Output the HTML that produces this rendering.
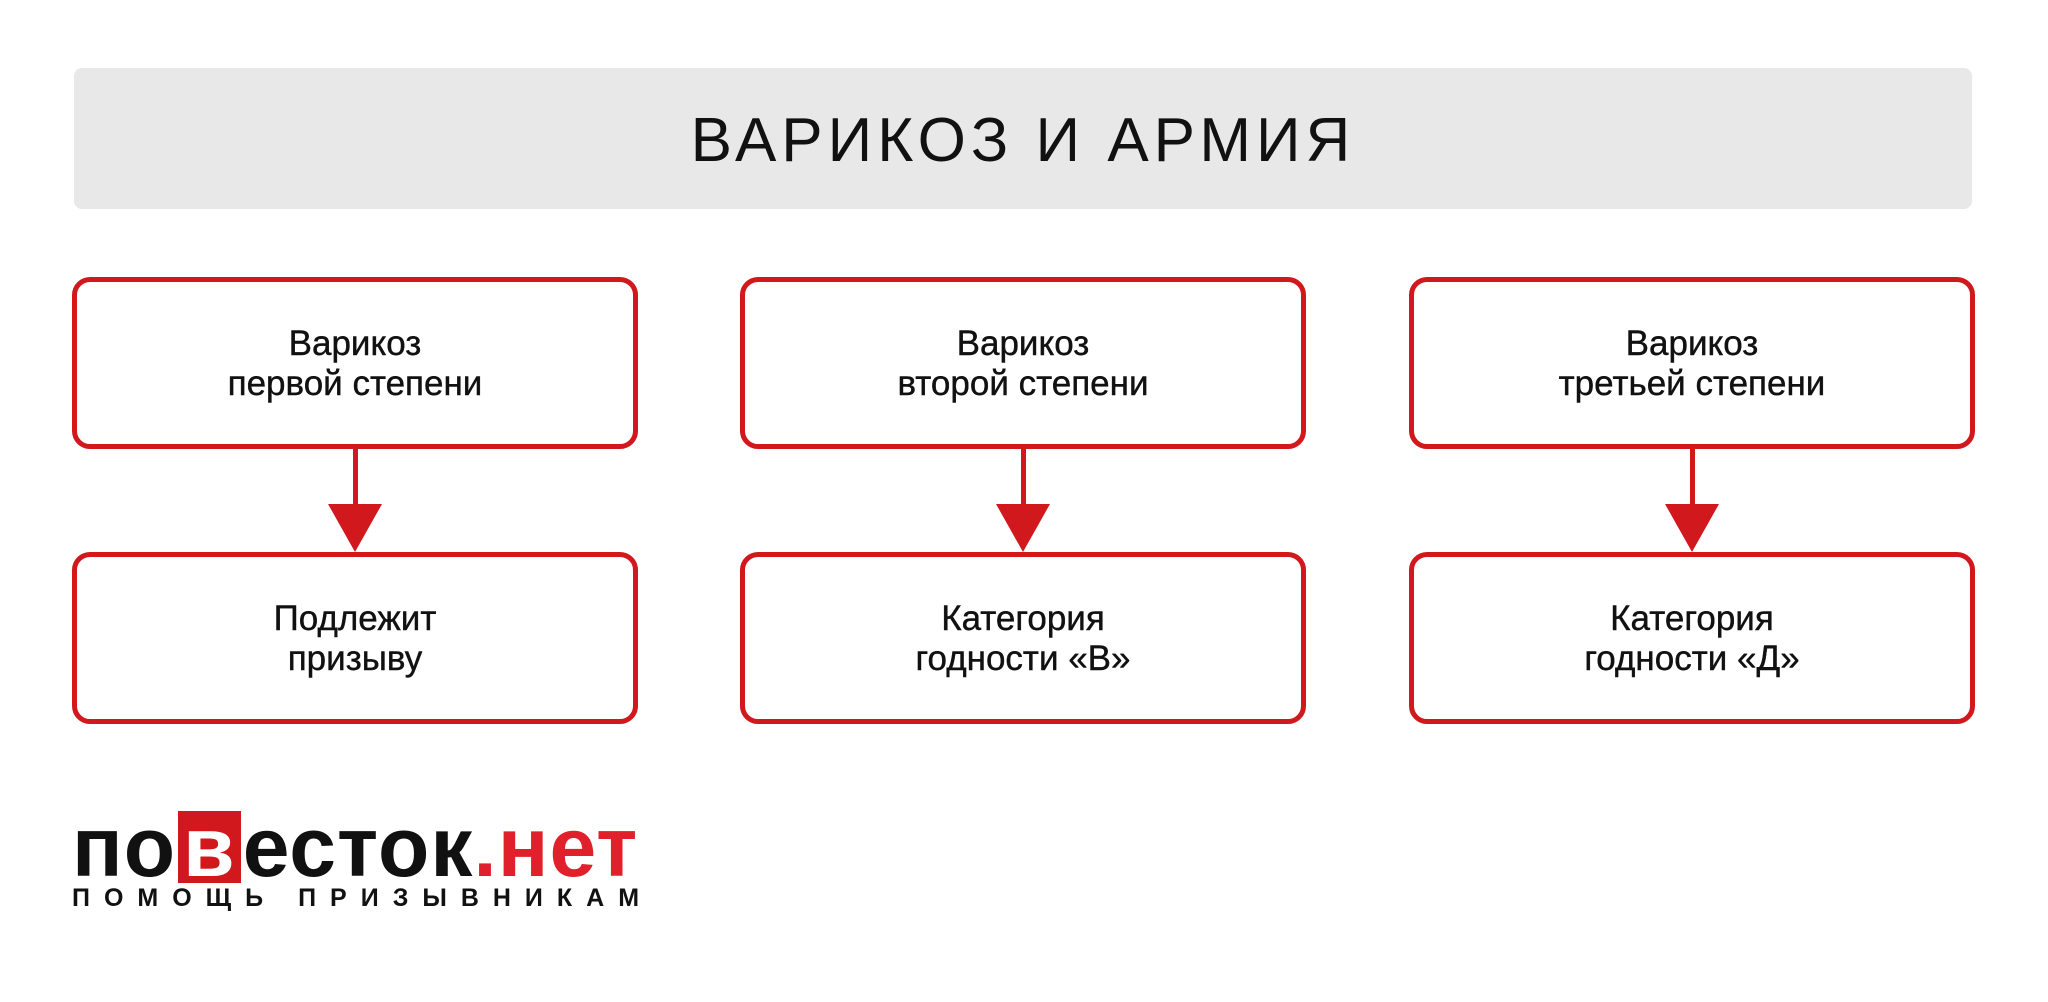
<!DOCTYPE html>
<html><head><meta charset="utf-8"><style>
body{margin:0;width:2048px;height:1002px;background:#fff;position:relative;overflow:hidden;font-family:"Liberation Sans","DejaVu Sans",sans-serif;}
.hdr{position:absolute;left:74px;top:68px;width:1898px;height:141px;background:#e8e8e8;border-radius:8px;display:flex;align-items:center;justify-content:center;font-size:62px;letter-spacing:5px;color:#111;padding-top:4px;box-sizing:border-box;}
.box{position:absolute;width:556px;height:160px;border:5px solid #d0181d;border-radius:18px;box-sizing:content-box;display:flex;align-items:center;justify-content:center;text-align:center;font-size:35px;line-height:40px;color:#111;-webkit-text-stroke:0.4px #111;padding-top:2px;}
.line{position:absolute;width:5px;background:#d0181d;}
.tri{position:absolute;width:0;height:0;border-left:27px solid transparent;border-right:27px solid transparent;border-top:48px solid #d0181d;}
</style></head><body>
<div class="hdr">ВАРИКОЗ И АРМИЯ</div>

<div class="box" style="left:72px;top:277px;">Варикоз<br>первой степени</div>
<div class="box" style="left:740px;top:277px;">Варикоз<br>второй степени</div>
<div class="box" style="left:1409px;top:277px;">Варикоз<br>третьей степени</div>

<div class="box" style="left:72px;top:552px;">Подлежит<br>призыву</div>
<div class="box" style="left:740px;top:552px;">Категория<br>годности «В»</div>
<div class="box" style="left:1409px;top:552px;">Категория<br>годности «Д»</div>

<div class="line" style="left:353px;top:447px;height:60px;"></div>
<div class="tri" style="left:328px;top:504px;"></div>
<div class="line" style="left:1021px;top:447px;height:60px;"></div>
<div class="tri" style="left:996px;top:504px;"></div>
<div class="line" style="left:1690px;top:447px;height:60px;"></div>
<div class="tri" style="left:1665px;top:504px;"></div>

<div style="position:absolute;left:72px;top:807px;font-size:84px;font-weight:bold;line-height:80px;letter-spacing:1px;color:#111;white-space:nowrap;">по<span style="display:inline-block;background:#d0181d;color:#fff;padding:0 5px;margin:0 2px;line-height:72px;">в</span>есток<span style="color:#e0202a;">.нет</span></div>
<div style="position:absolute;left:72px;top:884px;font-size:25px;font-weight:bold;letter-spacing:14px;color:#111;white-space:nowrap;">ПОМОЩЬ ПРИЗЫВНИКАМ</div>
</body></html>
